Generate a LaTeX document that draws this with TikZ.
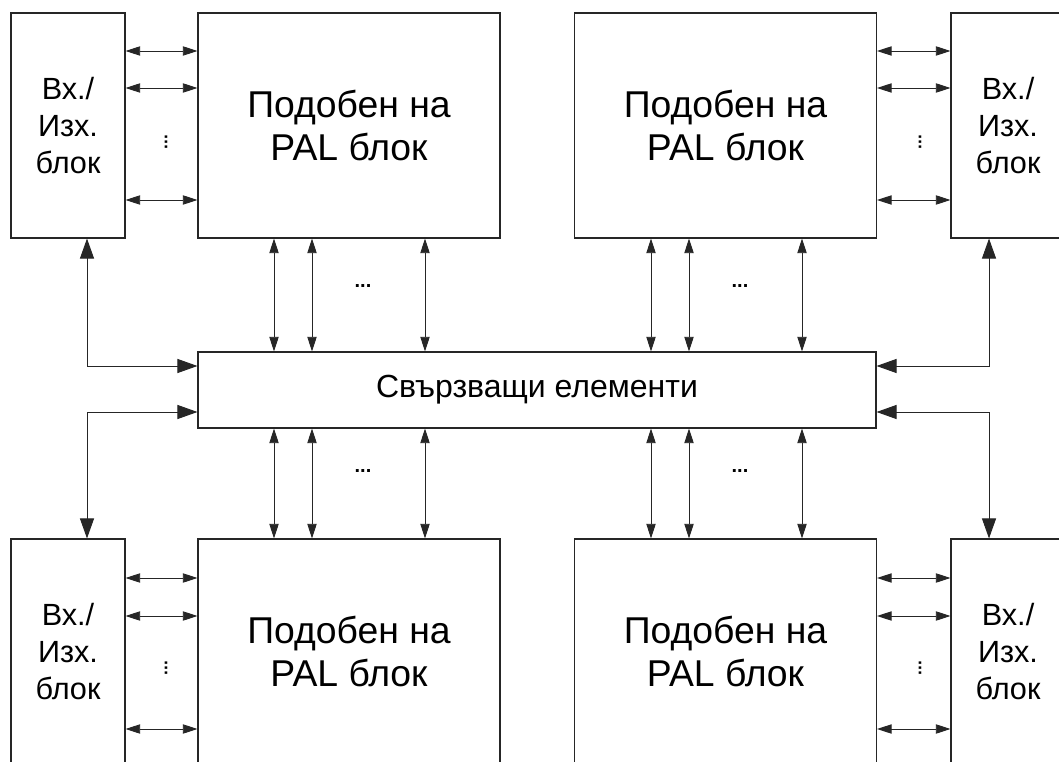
\documentclass[tikz,border=0pt]{standalone}
\usepackage{fontspec}
\setmainfont{Liberation Sans}
\usetikzlibrary{arrows.meta}
\begin{document}
\begin{tikzpicture}[x=0.75pt,y=-0.75pt,
  box/.style={draw=black!85,line width=0.8pt,inner sep=0pt,align=center},
  iobox/.style={box,minimum width=85.5pt,minimum height=168.75pt,font=\fontsize{23}{27.75}\selectfont},
  palbox/.style={box,minimum width=226.5pt,minimum height=168.75pt,font=\fontsize{28}{32}\selectfont},
  sarr/.style={draw=black!85,line width=0.7pt,{Triangle[length=11pt,width=7pt]}-{Triangle[length=11pt,width=7pt]}},
  larr/.style={draw=black!85,line width=0.7pt,{Triangle[length=15pt,width=10.5pt]}-{Triangle[length=15pt,width=10.5pt]}},
  hdots/.style={inner sep=0pt,font=\bfseries\fontsize{15}{15}\selectfont},
  vdots/.style={inner sep=0pt,rotate=90,font=\bfseries\fontsize{13}{13}\selectfont}
]
\useasboundingbox (0,0) rectangle (1059,762);
\fill[white] (0,0) rectangle (1059,762);
% blocks
\node[iobox] (io1) at (68,125.5) {Вх./\\Изх.\\блок};
\node[palbox] (pal1) at (349,125.5) {Подобен на\\PAL блок};
\node[palbox] (pal2) at (725.5,125.5) {Подобен на\\PAL блок};
\node[iobox] (io2) at (1008,125.5) {Вх./\\Изх.\\блок};
\node[iobox] (io3) at (68,651.5) {Вх./\\Изх.\\блок};
\node[palbox] (pal3) at (349,651.5) {Подобен на\\PAL блок};
\node[palbox] (pal4) at (725.5,651.5) {Подобен на\\PAL блок};
\node[iobox] (io4) at (1008,651.5) {Вх./\\Изх.\\блок};
\node[box,minimum width=508.5pt,minimum height=57pt,font=\fontsize{24}{28}\selectfont] (cen) at (537,390) {Свързващи елементи};
% horizontal arrows between IO and PAL blocks
\foreach \y in {51,88,200} {
  \draw[sarr] (io1.east |- 0,\y) -- (pal1.west |- 0,\y);
  \draw[sarr] (pal2.east |- 0,\y) -- (io2.west |- 0,\y);
}
\foreach \y in {578,616,729} {
  \draw[sarr] (io3.east |- 0,\y) -- (pal3.west |- 0,\y);
  \draw[sarr] (pal4.east |- 0,\y) -- (io4.west |- 0,\y);
}
% vertical arrows between PAL blocks and interconnect
\foreach \x in {274,312,425} {
  \draw[sarr] (pal1.south -| \x,0) -- (cen.north -| \x,0);
  \draw[sarr] (cen.south -| \x,0) -- (pal3.north -| \x,0);
}
\foreach \x in {651,689,802} {
  \draw[sarr] (pal2.south -| \x,0) -- (cen.north -| \x,0);
  \draw[sarr] (cen.south -| \x,0) -- (pal4.north -| \x,0);
}
% IO to interconnect
\draw[larr] (io1.south -| 87,0) |- (cen.west |- 0,366);
\draw[larr] (cen.west |- 0,412) -| (io3.north -| 87,0);
\draw[larr] (io2.south -| 989,0) |- (cen.east |- 0,366);
\draw[larr] (cen.east |- 0,412) -| (io4.north -| 989,0);
% dots
\node[hdots] (d1) at (363,286) {...};
\node[hdots] (d2) at (363,471) {...};
\node[hdots] (d3) at (740,286) {...};
\node[hdots] (d4) at (740,471) {...};
\node[vdots] (v1) at (166,142) {...};
\node[vdots] (v2) at (920,142) {...};
\node[vdots] (v3) at (166,668) {...};
\node[vdots] (v4) at (920,668) {...};
\end{tikzpicture}
\end{document}
